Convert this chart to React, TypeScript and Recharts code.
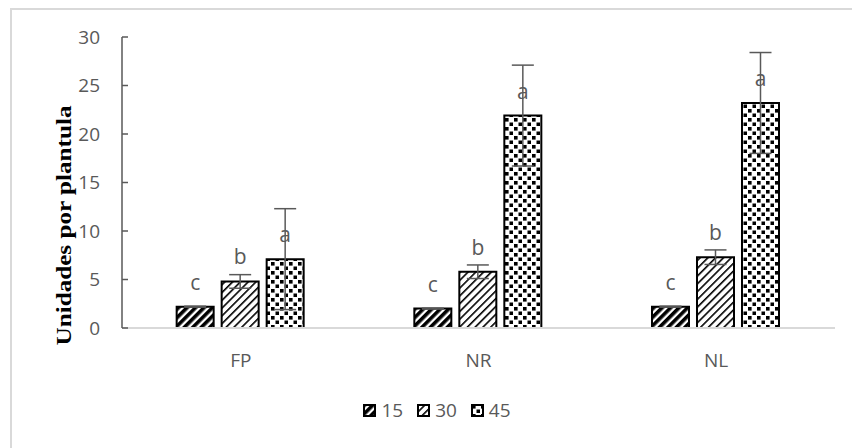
import { Bar, BarChart, ErrorBar, LabelList, XAxis, YAxis } from 'recharts';

const categories = ['FP', 'NR', 'NL'];
const series = ['15', '30', '45'];
const values15 = [2.2, 2.0, 2.2];
const values30 = [4.8, 5.8, 7.3];
const values45 = [7.1, 21.9, 23.2];
const err15 = [0.05, 0.05, 0.05];
const err30 = [0.7, 0.7, 0.75];
const err45 = [5.2, 5.2, 5.2];
const letters15 = ['c', 'c', 'c'];
const letters30 = ['b', 'b', 'b'];
const letters45 = ['a', 'a', 'a'];
const yTicks = [0, 5, 10, 15, 20, 25, 30];

const data = categories.map((name, i) => ({
    name,
    v15: values15[i], v30: values30[i], v45: values45[i],
    e15: err15[i], e30: err30[i], e45: err45[i],
    l15: letters15[i], l30: letters30[i], l45: letters45[i],
}));

const fills = ['url(#p15)', 'url(#p30)', 'url(#p45)'];
const gray = '#595959';
const font = '"Open Sans", sans-serif';

const Patterns = () => (
    <svg width={0} height={0} style={{ position: 'absolute' }}>
        <defs>
            <pattern id="p15" width={6} height={6} patternUnits="userSpaceOnUse" patternTransform="rotate(45)">
                <rect width={6} height={6} fill="#fff" />
                <rect width={3.6} height={6} fill="#000" />
            </pattern>
            <pattern id="p30" width={5.5} height={5.5} patternUnits="userSpaceOnUse" patternTransform="rotate(45)">
                <rect width={5.5} height={5.5} fill="#fff" />
                <rect width={1.6} height={5.5} fill="#000" />
            </pattern>
            <pattern id="p45" width={9} height={9} patternUnits="userSpaceOnUse">
                <rect width={9} height={9} fill="#fff" />
                <rect x={1} y={1} width={3.6} height={3.6} fill="#000" />
                <rect x={5.5} y={5.5} width={3.6} height={3.6} fill="#000" />
            </pattern>
        </defs>
    </svg>
);

const YLabel = (props: any) => {
    const { viewBox } = props;
    const x = viewBox.x + 2;
    const y = viewBox.y + viewBox.height / 2 + 43;
    return (
        <text x={x} y={y} transform={`rotate(-90 ${x} ${y})`} textAnchor="middle" dominantBaseline="central"
            fontFamily='"Liberation Serif", serif' fontWeight="bold" fontSize={20} fill="#000"
            textLength={240} lengthAdjust="spacingAndGlyphs">
            Unidades por plantula
        </text>
    );
};

const Legend = () => (
    <div style={{ position: 'absolute', top: 397, left: 0, width: 874, display: 'flex', justifyContent: 'center', gap: 14, fontFamily: font, fontSize: 19, color: gray }}>
        {series.map((s, i) => (
            <div key={s} style={{ display: 'flex', alignItems: 'center', gap: 5 }}>
                <svg width={13} height={13}>
                    <rect x={1} y={1} width={11} height={11} fill={fills[i]} stroke="#000" strokeWidth={2} />
                </svg>
                <span>{s}</span>
            </div>
        ))}
    </div>
);

const App = () => {
    const labelStyle = { fontFamily: font, fontSize: 21, fill: gray };
    return (
        <div style={{ position: 'absolute', left: 0, top: 0, width: 852, height: 448, background: '#fff', overflow: 'hidden' }}>
            <Patterns />
            <div style={{ position: 'absolute', left: 10, top: 8, width: 900, height: 500, borderLeft: '2px solid #d9d9d9', borderTop: '2px solid #d9d9d9' }} />
            <BarChart width={852} height={448} data={data} margin={{ top: 37, right: 17, left: 62, bottom: 90 }}
                barCategoryGap="23%" barGap={8} style={{ position: 'absolute', left: 0, top: 0 }}>
                <XAxis dataKey="name" axisLine={{ stroke: '#d9d9d9', strokeWidth: 2 }} tickLine={false} tickSize={0} tickMargin={26}
                    height={30} tick={{ fontFamily: font, fontSize: 19, fill: gray }} />
                <YAxis domain={[0, 30]} ticks={yTicks} width={60} axisLine={{ stroke: gray, strokeWidth: 1.5 }}
                    tickLine={{ stroke: gray, strokeWidth: 1.5 }} tickSize={-6} tickMargin={28}
                    tick={{ fontFamily: font, fontSize: 19, fill: gray }} label={<YLabel />} />
                <Bar dataKey="v15" fill={fills[0]} stroke="#000" strokeWidth={2} isAnimationActive={false}>
                    <ErrorBar dataKey="e15" width={11} stroke={gray} strokeWidth={1.5} />
                    <LabelList dataKey="l15" position="top" offset={17} style={labelStyle} />
                </Bar>
                <Bar dataKey="v30" fill={fills[1]} stroke="#000" strokeWidth={2} isAnimationActive={false}>
                    <ErrorBar dataKey="e30" width={11} stroke={gray} strokeWidth={1.5} />
                    <LabelList dataKey="l30" position="top" offset={17} style={labelStyle} />
                </Bar>
                <Bar dataKey="v45" fill={fills[2]} stroke="#000" strokeWidth={2} isAnimationActive={false}>
                    <ErrorBar dataKey="e45" width={11} stroke={gray} strokeWidth={1.5} />
                    <LabelList dataKey="l45" position="top" offset={17} style={labelStyle} />
                </Bar>
            </BarChart>
            <Legend />
        </div>
    );
};

export default App;
